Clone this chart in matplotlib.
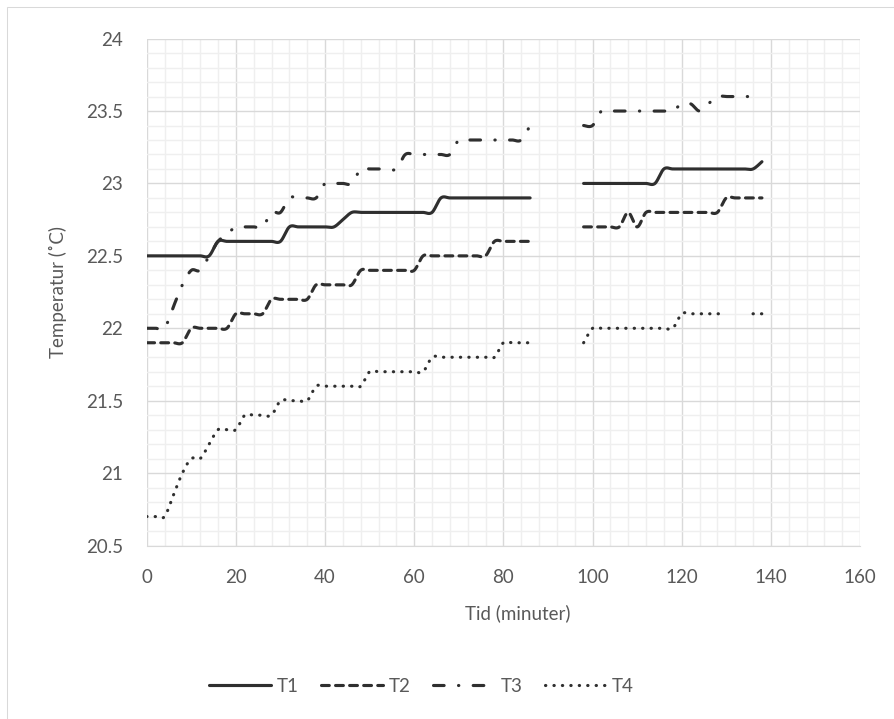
import numpy as np
import matplotlib
matplotlib.use('Agg')
import matplotlib.pyplot as plt
from matplotlib.ticker import MultipleLocator, FuncFormatter
from matplotlib.patches import Rectangle

plt.rcParams['font.family'] = ['Lato', 'DejaVu Sans']

nan = np.nan

# tid i minuter, målt hvert andet minut (88-96 mangler)
tid = list(range(0, 140, 2))

t1 = [22.5, 22.5, 22.5, 22.5, 22.5, 22.5, 22.5, 22.5,
      22.6, 22.6, 22.6, 22.6, 22.6, 22.6, 22.6, 22.6,
      22.7, 22.7, 22.7, 22.7, 22.7, 22.7, 22.75,
      22.8, 22.8, 22.8, 22.8, 22.8, 22.8, 22.8, 22.8, 22.8, 22.8,
      22.9, 22.9, 22.9, 22.9, 22.9, 22.9, 22.9, 22.9, 22.9, 22.9, 22.9,
      nan, nan, nan, nan, nan,
      23.0, 23.0, 23.0, 23.0, 23.0, 23.0, 23.0, 23.0, 23.0,
      23.1, 23.1, 23.1, 23.1, 23.1, 23.1, 23.1, 23.1, 23.1, 23.1, 23.1,
      23.15]

t2 = [21.9, 21.9, 21.9, 21.9, 21.9,
      22.0, 22.0, 22.0, 22.0, 22.0,
      22.1, 22.1, 22.1, 22.1,
      22.2, 22.2, 22.2, 22.2, 22.2,
      22.3, 22.3, 22.3, 22.3, 22.3,
      22.4, 22.4, 22.4, 22.4, 22.4, 22.4, 22.4,
      22.5, 22.5, 22.5, 22.5, 22.5, 22.5, 22.5, 22.5,
      22.6, 22.6, 22.6, 22.6, 22.6,
      nan, nan, nan, nan, nan,
      22.7, 22.7, 22.7, 22.7, 22.7, 22.8, 22.7,
      22.8, 22.8, 22.8, 22.8, 22.8, 22.8, 22.8, 22.8, 22.8,
      22.9, 22.9, 22.9, 22.9, 22.9]

t3 = [22.0, 22.0, 22.0, 22.15, 22.3, 22.4, 22.4, 22.5, 22.6, 22.65,
      22.7, 22.7, 22.7, 22.7, 22.8, 22.8,
      22.9, 22.9, 22.9, 22.9,
      23.0, 23.0, 23.0, 23.0,
      23.1, 23.1, 23.1, 23.1, 23.1,
      23.2, 23.2, 23.2, 23.2, 23.2, 23.2,
      23.3, 23.3, 23.3, 23.3, 23.3, 23.3, 23.3, 23.3,
      23.4,
      nan, nan, nan, nan, nan,
      23.4, 23.4,
      23.5, 23.5, 23.5, 23.5, 23.5, 23.5, 23.5, 23.5, 23.5,
      23.55, 23.55, 23.5, 23.55,
      23.6, 23.6, 23.6, 23.6, 23.6, 23.6]

t4 = [20.7, 20.7, 20.7, 20.85, 21.0, 21.1, 21.1, 21.2,
      21.3, 21.3, 21.3,
      21.4, 21.4, 21.4, 21.4,
      21.5, 21.5, 21.5, 21.5,
      21.6, 21.6, 21.6, 21.6, 21.6, 21.6,
      21.7, 21.7, 21.7, 21.7, 21.7, 21.7, 21.7,
      21.8, 21.8, 21.8, 21.8, 21.8, 21.8, 21.8, 21.8,
      21.9, 21.9, 21.9, 21.9,
      nan, nan, nan, nan, nan,
      21.9,
      22.0, 22.0, 22.0, 22.0, 22.0, 22.0, 22.0, 22.0, 22.0, 22.0,
      22.1, 22.1, 22.1, 22.1, 22.1, 22.1,
      nan, nan,
      22.1, 22.1]

navne = ['T1', 'T2', 'T3', 'T4']
serier = [t1, t2, t3, t4]
streger = ['-', (0, (2.5, 2.0)), (0, (3.4, 4.6, 0.1, 4.6)), (0, (0.1, 2.6))]
farve = '#2f2f2f'
tekst = '#595959'


def glat(x, y, n=16):
    """Udglattet linje (Catmull-Rom som Bezier), brudt ved manglende punkter."""
    x = np.asarray(x, float)
    y = np.asarray(y, float)
    idx = np.flatnonzero(~np.isnan(y))
    stykker = np.split(idx, np.flatnonzero(np.diff(idx) > 1) + 1)
    s = np.linspace(0, 1, n)[:, None]
    ud = []
    for st in stykker:
        p = np.column_stack([x[st], y[st]])
        m = len(p)
        if m == 1:
            ud.append(p)
        for i in range(m - 1):
            a = max(i - 1, 0)
            d = min(i + 2, m - 1)
            c0 = p[i] + (p[i + 1] - p[a]) / 6
            c1 = p[i + 1] - (p[d] - p[i]) / 6
            b = ((1 - s) ** 3 * p[i] + 3 * (1 - s) ** 2 * s * c0
                 + 3 * (1 - s) * s ** 2 * c1 + s ** 3 * p[i + 1])
            ud.append(b if i == 0 else b[1:])
        ud.append(np.array([[nan, nan]]))
    ud = np.vstack(ud)
    return ud[:, 0], ud[:, 1]


fig, ax = plt.subplots(figsize=(8.94, 7.19), dpi=100)
fig.subplots_adjust(left=0.1641, right=0.962, top=0.9463, bottom=0.2413)

for navn, v, ls in zip(navne, serier, streger):
    gx, gy = glat(tid, v)
    ax.plot(gx, gy, color=farve, lw=2.25, linestyle=ls,
            dash_capstyle='round', solid_capstyle='round', label=navn)

ax.set_xlim(0, 160)
ax.set_ylim(20.5, 24)
ax.xaxis.set_major_locator(MultipleLocator(20))
ax.xaxis.set_minor_locator(MultipleLocator(4))
ax.yaxis.set_major_locator(MultipleLocator(0.5))
ax.yaxis.set_minor_locator(MultipleLocator(0.1))
ax.yaxis.set_major_formatter(FuncFormatter(lambda v, p: f'{v:g}'))
ax.grid(which='minor', color='#efefef', lw=1.0)
ax.grid(which='major', color='#d9d9d9', lw=1.0)
ax.set_axisbelow(True)
for side in ['top', 'right', 'left']:
    ax.spines[side].set_visible(False)
ax.spines['bottom'].set_color('#d9d9d9')
ax.tick_params(which='both', length=0, labelsize=13.5, colors=tekst)
ax.tick_params(axis='x', pad=17)
ax.tick_params(axis='y', pad=17)

ax.set_xlabel('Tid (minuter)', fontsize=13.5, color=tekst)
ax.set_ylabel('Temperatur (˚C)', fontsize=13.5, color=tekst)
ax.xaxis.set_label_coords(0.52, -0.115)
ax.yaxis.set_label_coords(-0.1116, 0.5)

fig.legend(loc='center', bbox_to_anchor=(421.5 / 894, 1 - 686 / 719), ncol=4,
           frameon=False, fontsize=13.5, labelcolor=tekst, handlelength=3.3,
           handletextpad=0.3, columnspacing=1.2)

# ramme om diagrammet
fig.add_artist(Rectangle((7 / 894, -0.5), 2, 1.5 - 7 / 719, transform=fig.transFigure,
                         fill=False, ec='#d9d9d9', lw=0.75))

fig.savefig('out.png', dpi=100)
